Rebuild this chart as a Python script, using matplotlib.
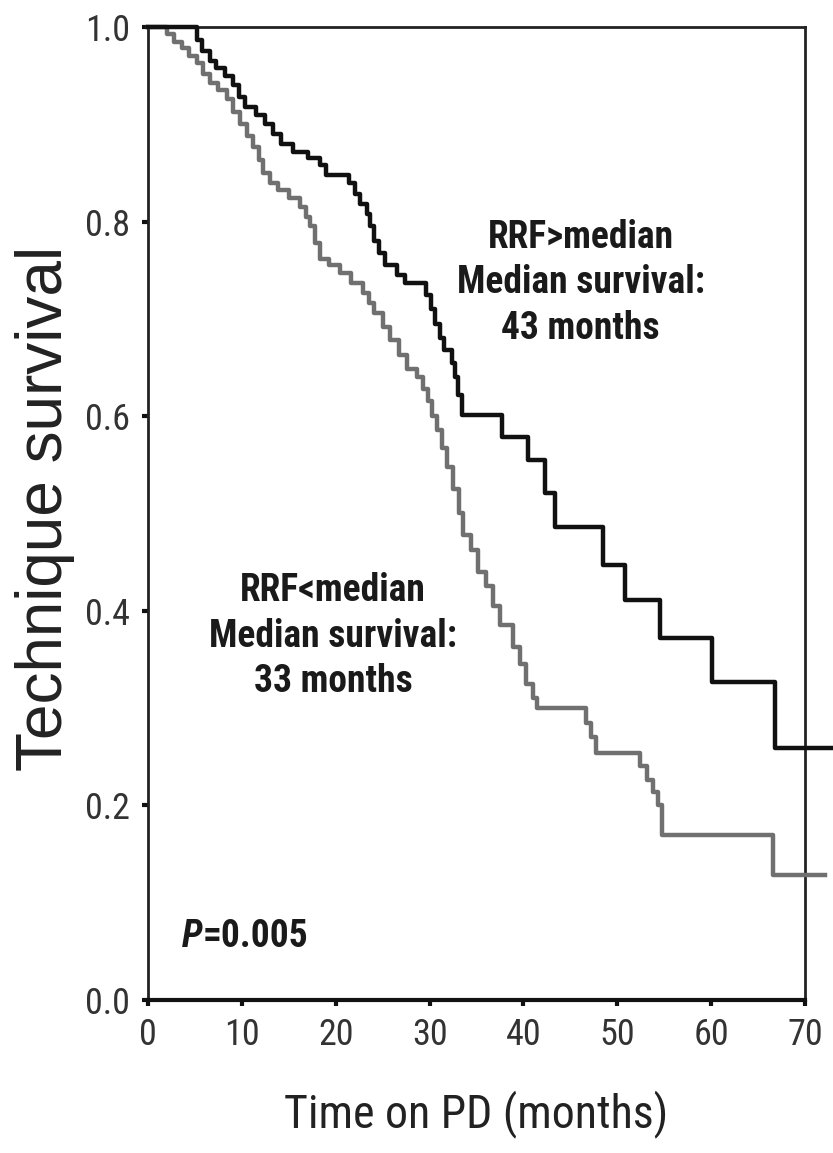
import matplotlib
matplotlib.use("Agg")
import matplotlib.pyplot as plt

# Kaplan-Meier steps (months, technique survival)
high_t = [0, 5.2, 5.8, 6.6, 7.2, 8.2, 9.1, 9.7, 10.3, 11.5, 12.5, 13.3, 14.2, 15.5,
          17.0, 18.3, 19.0, 21.4, 22.0, 22.6, 23.3, 23.7, 24.1, 24.6, 25.2, 26.5,
          27.4, 29.6, 30.1, 30.6, 31.1, 31.5, 32.4, 32.7, 33.0, 33.4, 37.7, 40.5,
          42.3, 43.4, 48.5, 50.8, 54.5, 60.1, 66.8, 73.0]
high_s = [1.0, 0.987, 0.975, 0.965, 0.958, 0.95, 0.94, 0.928, 0.918, 0.91, 0.9, 0.89,
          0.88, 0.872, 0.865, 0.858, 0.848, 0.84, 0.828, 0.818, 0.808, 0.795, 0.78,
          0.768, 0.755, 0.745, 0.737, 0.725, 0.71, 0.695, 0.68, 0.668, 0.655, 0.64,
          0.622, 0.601, 0.579, 0.555, 0.521, 0.486, 0.447, 0.411, 0.372, 0.327,
          0.259, 0.259]

low_t = [0, 2.0, 2.8, 3.6, 4.4, 5.2, 5.9, 6.6, 7.5, 8.4, 9.1, 9.8, 10.5, 11.2, 11.8,
         12.3, 13.0, 13.8, 15.0, 16.2, 16.8, 17.3, 17.8, 18.3, 19.3, 20.5, 21.6,
         22.9, 23.5, 24.1, 25.0, 25.8, 26.7, 27.6, 28.7, 29.3, 29.8, 30.3, 30.8,
         31.3, 31.9, 32.5, 33.1, 33.6, 34.4, 35.2, 36.0, 36.8, 37.5, 38.9, 39.6,
         40.3, 41.0, 41.4, 46.7, 47.2, 47.7, 52.4, 53.2, 53.8, 54.3, 54.8, 66.6, 72.1]
low_s = [1.0, 0.993, 0.985, 0.978, 0.97, 0.963, 0.952, 0.942, 0.935, 0.926, 0.913,
         0.9, 0.888, 0.877, 0.863, 0.85, 0.84, 0.832, 0.824, 0.815, 0.805, 0.795,
         0.778, 0.762, 0.755, 0.747, 0.737, 0.727, 0.716, 0.706, 0.692, 0.678,
         0.663, 0.648, 0.64, 0.628, 0.616, 0.6, 0.586, 0.567, 0.548, 0.525, 0.5,
         0.478, 0.462, 0.44, 0.425, 0.405, 0.385, 0.363, 0.345, 0.325, 0.31, 0.30,
         0.285, 0.27, 0.254, 0.24, 0.226, 0.214, 0.2, 0.17, 0.128, 0.128]

x_ticks = [0, 10, 20, 30, 40, 50, 60, 70]
y_ticks = [0.0, 0.2, 0.4, 0.6, 0.8, 1.0]

cond = ["Roboto Condensed", "DejaVu Sans"]

fig = plt.figure(figsize=(8.33, 11.53), dpi=100)
ax = fig.add_axes([0.1777, 0.1327, 0.7887, 0.8439])

ax.step(low_t, low_s, where="post", color="#707070", lw=3.2, clip_on=False, zorder=3)
ax.step(high_t, high_s, where="post", color="#111111", lw=3.2, clip_on=False, zorder=4)

ax.set_xlim(0, 70)
ax.set_ylim(0, 1.0)
ax.set_xticks(x_ticks)
ax.set_yticks(y_ticks)
ax.set_yticklabels(["%.1f" % v for v in y_ticks])
for sp in ["left", "top", "right"]:
    ax.spines[sp].set_linewidth(2.0)
    ax.spines[sp].set_color("#222222")
ax.spines["bottom"].set_linewidth(3.0)
ax.spines["bottom"].set_color("#111111")

ax.tick_params(axis="both", direction="out", length=4, width=3, color="#111111",
               labelsize=26, labelcolor="#333333")
ax.tick_params(axis="y", pad=9)
ax.tick_params(axis="x", pad=8)
for lab in ax.get_xticklabels() + ax.get_yticklabels():
    lab.set_family(cond)

ax.set_xlabel("Time on PD (months)", fontsize=33, family=cond, color="#222222",
              va="center")
ax.xaxis.set_label_coords(0.5, -0.117)
ax.set_ylabel("Technique survival", fontsize=46, family=["Liberation Sans", "DejaVu Sans"],
              color="#222222", va="center", ha="center")
ax.yaxis.set_label_coords(-0.157, 0.505)

ax.text(46.1, 0.737, "RRF>median\nMedian survival:\n43 months", ha="center", va="center",
        fontsize=27, fontweight="bold", family=cond, color="#1a1a1a", linespacing=1.3)
ax.text(19.7, 0.374, "RRF<median\nMedian survival:\n33 months", ha="center", va="center",
        fontsize=27, fontweight="bold", family=cond, color="#1a1a1a", linespacing=1.3)

p_txt = ax.text(3.6, 0.065, "P", ha="left", va="center", fontsize=27,
                fontweight="bold", fontstyle="italic", family=cond, color="#1a1a1a")
ax.annotate("=0.005", xy=(1, 0), xycoords=p_txt, ha="left", va="bottom", fontsize=27,
            fontweight="bold", family=cond, color="#1a1a1a")

fig.savefig("out.png", dpi=100)
